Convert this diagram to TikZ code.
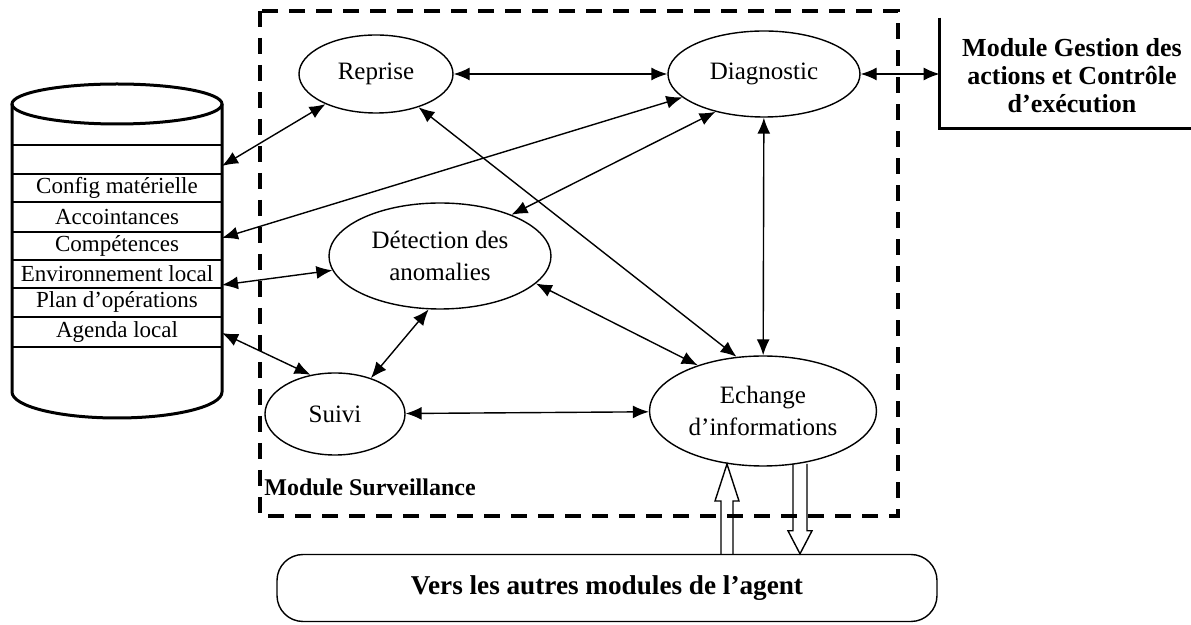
\documentclass[tikz,border=0pt]{standalone}
\usepackage{fontspec}
\setmainfont{Liberation Serif}
\usetikzlibrary{arrows.meta,shapes.geometric,calc}

\tikzset{
  proc/.style={draw, ellipse, inner sep=0pt, line width=0.7pt, font=\fontsize{12.5}{16}\selectfont, align=center},
  rowtxt/.style={inner sep=0pt, font=\fontsize{11.5}{13}\selectfont},
  link/.style={{Latex[length=8pt,width=6.5pt]}-{Latex[length=8pt,width=6.5pt]}, line width=0.7pt},
  cyl/.style={line width=1.5pt},
  surv/.style={line width=1.6pt, dash pattern=on 8pt off 5.5pt},
  hollow/.style={line width=0.7pt},
  boldtxt/.style={inner sep=0pt, font=\fontsize{13}{14}\selectfont\bfseries, align=center}
}

\begin{document}
\begin{tikzpicture}[x=0.5pt,y=-0.5pt]
\useasboundingbox (0,0) rectangle (1191,625);
% base de donnees
\draw[cyl] (117,104) ellipse (105 and 20);
\draw[cyl] (12,104) -- (12,392) arc[start angle=180, end angle=0, x radius=105, y radius=26] -- (222,104);
\foreach \yy in {145,174,202,232,260,288,317,347}
  \draw[line width=0.6pt] (12,\yy) -- (222,\yy);
\node[rowtxt] (cfg) at (117,188) {Config matérielle};
\node[rowtxt] (acc) at (117,217) {Accointances};
\node[rowtxt] (cmp) at (117,246) {Compétences};
\node[rowtxt] (env) at (117,274) {Environnement local};
\node[rowtxt] (pln) at (117,302) {Plan d'opérations};
\node[rowtxt] (agd) at (117,332) {Agenda local};
\coordinate (cA) at (222,166);
\coordinate (cB) at (222,238);
\coordinate (cC) at (222,285);
\coordinate (cD) at (222,333);

% module surveillance
\draw[surv] (260,11) rectangle (898,516);
\node[boldtxt, anchor=west, font=\fontsize{12}{14}\selectfont\bfseries] (survlbl) at (264,487) {Module Surveillance};
\node[proc, minimum width=77pt, minimum height=39pt] (rep) at (376,74) {Reprise};
\node[proc, minimum width=96pt, minimum height=43pt] (dia) at (764,74) {Diagnostic};
\node[proc, minimum width=111pt, minimum height=53pt] (det) at (440,256) {Détection des\\anomalies};
\node[proc, minimum width=70pt, minimum height=41pt] (sui) at (335,414) {Suivi};
\node[proc, minimum width=113.5pt, minimum height=55pt] (ech) at (763,411) {Echange\\d'informations};

% module gestion
\node[minimum width=130pt, minimum height=55pt, inner sep=0pt] (gbox) at (1070,73) {};
\draw[line width=1.6pt] (gbox.north west) -- (gbox.south west) -- (gbox.south east);
\node[boldtxt] (gest) at (1072,76) {Module Gestion des\\actions et Contrôle\\d'exécution};

% vers les autres modules
\node[draw, line width=0.7pt, rounded corners=13pt, minimum width=330pt, minimum height=33.5pt, inner sep=0pt, font=\fontsize{13.6}{16}\selectfont\bfseries] (vers) at (607,588) {Vers les autres modules de l'agent};

\draw[link] (rep) -- (dia);
\draw[link] (dia) -- (dia -| gbox.west);
\draw[link] (cA) -- (rep);
\draw[link] (rep.-38) -- (ech.116);
\draw[link] (cB) -- (dia.196);
\draw[link] (dia.218) -- (det.30);
\draw[link] (dia) -- (ech);
\draw[link] (cC) -- (det);
\draw[link] (det.-16) -- (ech.145);
\draw[link] (det.258) -- (sui.45);
\draw[link] (cD) -- (sui.122);
\draw[link] (sui) -- (ech);

% fleches creuses
\coordinate (upTip) at (727,464);
\coordinate (upFoot) at (vers.north -| upTip);
\draw[hollow] ($(upFoot)+(-6,0)$) -- ($(upTip)+(-6,37)$) -- ($(upTip)+(-12,37)$) -- (upTip)
  -- ($(upTip)+(12,37)$) -- ($(upTip)+(6,37)$) -- ($(upFoot)+(6,0)$);
\coordinate (dnTop) at (800,464);
\coordinate (dnTip) at (vers.north -| dnTop);
\draw[hollow] ($(dnTop)+(-7,0)$) -- ($(dnTip)+(-7,-23)$) -- ($(dnTip)+(-12,-23)$) -- (dnTip)
  -- ($(dnTip)+(12,-23)$) -- ($(dnTip)+(7,-23)$) -- ($(dnTop)+(7,0)$);
\end{tikzpicture}
\end{document}
